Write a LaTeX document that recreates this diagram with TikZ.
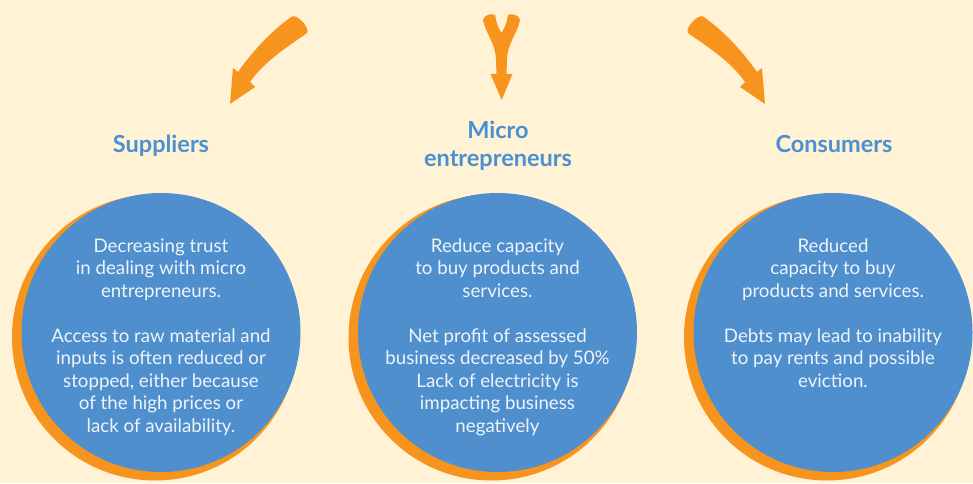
\documentclass[tikz,border=0pt]{standalone}
\usepackage{fontspec}
\setmainfont{Lato}
\definecolor{cream}{HTML}{FFF2D5}
\definecolor{sky}{HTML}{4F8FCD}
\definecolor{tang}{HTML}{F7941D}
\definecolor{heading}{HTML}{4A90D2}
\definecolor{paper}{HTML}{EEF4FA}
\begin{document}
\begin{tikzpicture}[x=1pt,y=1pt,
		disc/.style={circle,fill=sky,minimum size=279pt,inner sep=0pt},
		halo/.style={circle,fill=tang,minimum size=286pt,inner sep=0pt},
		heading/.style={text=heading,font=\fontsize{23.5}{28.4}\selectfont\bfseries,align=center,anchor=base,inner sep=0pt},
		body/.style={text=paper,font=\fontsize{18.7}{22.5}\selectfont,align=center,anchor=base,inner sep=0pt}]
			\fill[cream] (0,0) rectangle (973,483);
			\useasboundingbox (0,0) rectangle (973,483);
			% bent arrows, left one and its mirror image
			\foreach \s/\d in {1/0,-1/995}{
				\fill[tang,xshift=\d pt,xscale=\s] (238,411) .. controls (252.3,431.5) and (271.2,452) .. (291.7,466.3)
					.. controls (296,470) and (311,455) .. (306.7,449.7)
					.. controls (286.2,435.4) and (264.3,421.5) .. (250,401)
					-- (255,396) -- (230,379) -- (233,415) -- cycle;
			}
			% forked arrow
			\fill[tang] (496.5,409) -- (496,422) .. controls (496,440) and (486,448) .. (483,463)
				.. controls (484,468) and (491,470) .. (495,468)
				.. controls (497,458) .. (501.5,450)
				.. controls (506,458) .. (508,468)
				.. controls (512,470) and (519,468) .. (520,463)
				.. controls (517,448) and (507,440) .. (507,422)
				-- (506.5,409) -- (512.5,409) -- (501.7,383) -- (490.5,409) -- cycle;
			% circles
			\node[halo] (suppH) at (155,145.5){};
			\node[disc] (supp) at (161,150.5){};
			\node[halo] (microH) at (491.5,145.5){};
			\node[disc] (micro) at (497.5,150.5){};
			\node[halo] (consH) at (827,145.5){};
			\node[disc] (cons) at (833,150.5){};
			% titles (anchored on the last baseline)
			\node[heading] (suppT) at (161,330.3){Suppliers};
			\node[heading] (microT) at (498,316.3){Micro\\entrepreneurs};
			\node[heading] (consT) at (834,330.7){Consumers};
			% texts (anchored on the last baseline)
			\node[body] (suppB) at (161,50.7){Decreasing trust\\in dealing with micro\\entrepreneurs.\\[22.5pt]Access to raw material and\\inputs is often reduced or\\stopped, either because\\of the high prices or\\lack of availability.};
			\node[body] (microB) at (497.5,50.7){Reduce capacity\\to buy products and\\services.\\[22.5pt]Net profit of assessed\\business decreased by 50\%\\Lack of electricity is\\impacting business\\negatively};
			\node[body] (consB) at (833,95.7){Reduced\\capacity to buy\\products and services.\\[22.5pt]Debts may lead to inability\\to pay rents and possible\\eviction.};
		\end{tikzpicture}
\end{document}
